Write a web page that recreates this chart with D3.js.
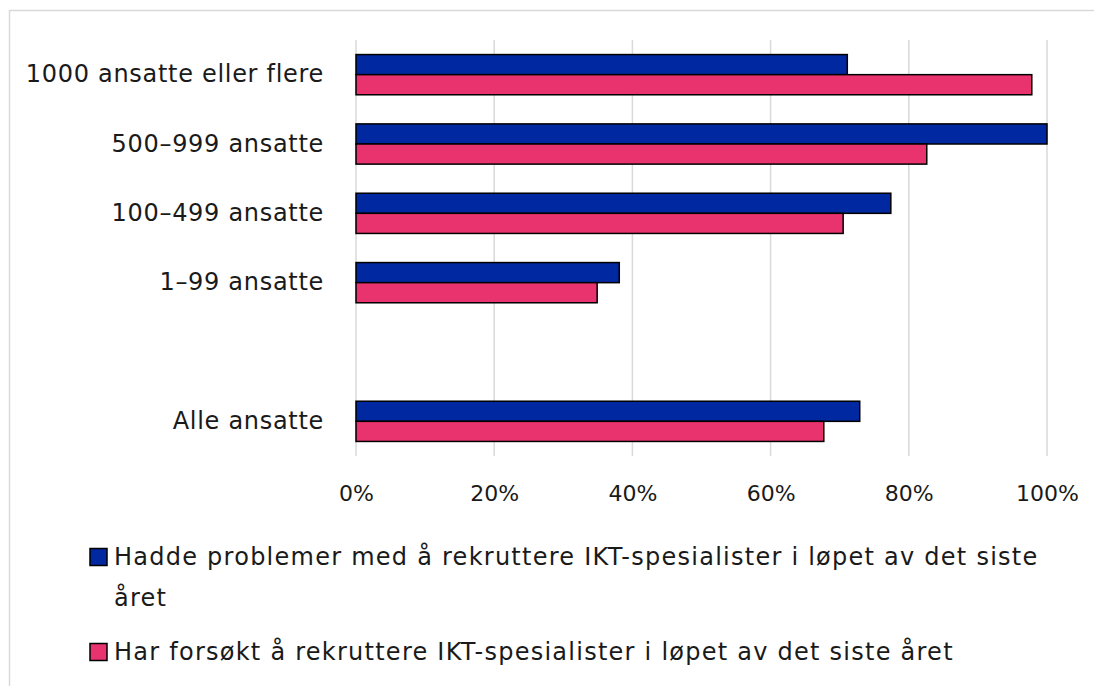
<!DOCTYPE html>
<html>
<head>
<meta charset="utf-8">
<script src="https://cdn.jsdelivr.net/npm/d3@7/dist/d3.min.js"></script>
<style>
  html, body { margin: 0; padding: 0; background: #fff; }
  svg { display: block; font-family: "DejaVu Sans", "Noto Sans", sans-serif; }
</style>
</head>
<body>
<svg id="chart" width="1094" height="686"></svg>
<script>
// Category rows (blank entry leaves a gap before the total row)
const categories = ["1000 ansatte eller flere", "500–999 ansatte", "100–499 ansatte", "1–99 ansatte", "", "Alle ansatte"];
const seriesNames = [
  "Hadde problemer med å rekruttere IKT-spesialister i løpet av det siste året",
  "Har forsøkt å rekruttere IKT-spesialister i løpet av det siste året"
];
const problemer = [0.711, 1.0, 0.774, 0.381, null, 0.729];
const forsokt   = [0.978, 0.826, 0.705, 0.349, null, 0.677];
const tickValues = [0, 0.2, 0.4, 0.6, 0.8, 1.0];
const colors = ["#0028A0", "#E8336F"];

const svg = d3.select("#chart");
const textColor = "#1a1a1a";
const fontFamily = "'DejaVu Sans', 'Noto Sans', sans-serif";

// outer frame (runs past the right and bottom edges)
svg.append("rect")
  .attr("x", 9.5).attr("y", 10.5)
  .attr("width", 1200).attr("height", 800)
  .attr("fill", "none").attr("stroke", "#d9d9d9").attr("stroke-width", 1.5);

const x = d3.scaleLinear().domain([0, 1]).range([356, 1047]);
const y = d3.scaleBand().domain(categories.map((c, i) => i))
  .range([40, 456]).paddingInner(0.42).paddingOuter(0.21);
const ySeries = d3.scaleBand().domain([0, 1]).range([0, y.bandwidth()]);

// vertical gridlines
svg.append("g").selectAll("line").data(tickValues).join("line")
  .attr("x1", d => x(d)).attr("x2", d => x(d))
  .attr("y1", 40).attr("y2", 456)
  .attr("stroke", "#d9d9d9").attr("stroke-width", 1.5);

// bars
const series = [problemer, forsokt];
series.forEach((vals, s) => {
  svg.append("g").selectAll("rect")
    .data(vals.map((v, i) => ({ v, i })).filter(d => d.v !== null))
    .join("rect")
    .attr("x", x(0))
    .attr("y", d => y(d.i) + ySeries(s))
    .attr("width", d => x(d.v) - x(0))
    .attr("height", ySeries.bandwidth())
    .attr("fill", colors[s])
    .attr("stroke", "#000").attr("stroke-width", 1.5);
});

// x axis labels
const xAxis = d3.axisBottom(x).tickValues(tickValues).tickFormat(d3.format(".0%")).tickSize(0).tickPadding(0);
const gx = svg.append("g").attr("transform", "translate(0,483)").call(xAxis);
gx.select(".domain").remove();
gx.selectAll("text").attr("font-size", 22).attr("fill", textColor)
  .attr("font-family", fontFamily).attr("dy", "0.8em");

// category labels
const yAxis = d3.axisLeft(y).tickFormat(i => categories[i]).tickSize(0).tickPadding(0);
const gy = svg.append("g").attr("transform", "translate(324,0)").call(yAxis);
gy.select(".domain").remove();
gy.selectAll("text").attr("font-size", 24).attr("fill", textColor)
  .attr("font-family", fontFamily).attr("letter-spacing", 0.7);

// legend
const legend = [
  { lines: ["Hadde problemer med å rekruttere IKT-spesialister i løpet av det siste", "året"], y: 557 },
  { lines: ["Har forsøkt å rekruttere IKT-spesialister i løpet av det siste året"], y: 652 }
];
legend.forEach((item, s) => {
  const g = svg.append("g");
  g.append("rect").attr("x", 90).attr("y", item.y - 8.5).attr("width", 17).attr("height", 17)
    .attr("fill", colors[s]).attr("stroke", "#000").attr("stroke-width", 1.5);
  const t = g.append("text").attr("x", 114).attr("y", item.y)
    .attr("font-size", 24).attr("fill", textColor).attr("letter-spacing", 1.25);
  item.lines.forEach((ln, k) => {
    t.append("tspan").attr("x", 114).attr("dy", k === 0 ? "0.35em" : "1.7em").text(ln);
  });
});
</script>
</body>
</html>
